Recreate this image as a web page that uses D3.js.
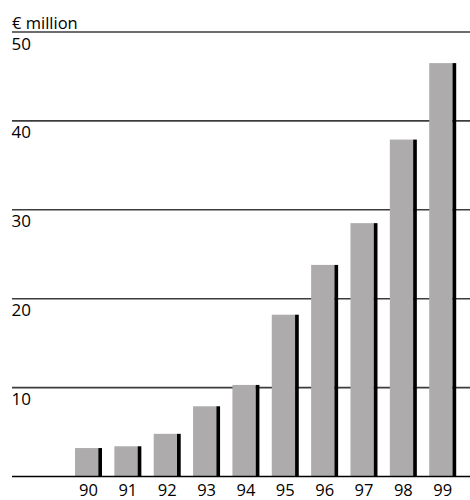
<!DOCTYPE html>
<html>
<head>
<meta charset="utf-8">
<script src="https://cdn.jsdelivr.net/npm/d3@7/dist/d3.min.js"></script>
<style>
  html, body { margin: 0; padding: 0; background: #fff; }
  svg { display: block; }
  text { font-family: "Open Sans", "Noto Sans", sans-serif; fill: #000; font-weight: 500; }
</style>
</head>
<body>
<svg id="chart" width="470" height="500"></svg>
<script>
// Annual values, € million
const years = ["90", "91", "92", "93", "94", "95", "96", "97", "98", "99"];
const values = [3.2, 3.4, 4.8, 7.9, 10.3, 18.2, 23.8, 28.5, 37.9, 46.5];
const yTicks = [10, 20, 30, 40, 50];
const unitLabel = "€ million";

const svg = d3.select("#chart");

const y = d3.scaleLinear().domain([0, 50]).range([476.5, 32]);
const x = d3.scaleBand()
  .domain(years)
  .range([75, 456.2])
  .paddingInner(0.314)
  .paddingOuter(0);

const lineLeft = 12, lineRight = 470;
const faceShare = 0.863; // grey face vs. dark side edge

// horizontal reference lines with their labels underneath
const grid = svg.append("g");
grid.selectAll("line")
  .data(yTicks)
  .join("line")
  .attr("x1", lineLeft).attr("x2", lineRight)
  .attr("y1", d => y(d)).attr("y2", d => y(d))
  .attr("stroke", "#3c3c3c")
  .attr("stroke-width", 1.6);

grid.selectAll("text")
  .data(yTicks)
  .join("text")
  .attr("x", lineLeft - 0.5)
  .attr("y", d => y(d) + 17.5)
  .attr("font-size", 17)
  .text(d => d);

// bars: grey face plus a black edge on the right
const bars = svg.append("g");
bars.selectAll("rect.face")
  .data(values)
  .join("rect")
  .attr("class", "face")
  .attr("x", (d, i) => x(years[i]))
  .attr("y", d => y(d))
  .attr("width", x.bandwidth() * faceShare)
  .attr("height", d => y(0) - y(d))
  .attr("fill", "#adabac");

bars.selectAll("rect.edge")
  .data(values)
  .join("rect")
  .attr("class", "edge")
  .attr("x", (d, i) => x(years[i]) + x.bandwidth() * faceShare)
  .attr("y", d => y(d))
  .attr("width", x.bandwidth() * (1 - faceShare))
  .attr("height", d => y(0) - y(d))
  .attr("fill", "#000");

// baseline
svg.append("line")
  .attr("x1", lineLeft).attr("x2", lineRight)
  .attr("y1", y(0)).attr("y2", y(0))
  .attr("stroke", "#000")
  .attr("stroke-width", 1.6);

// category labels
const xAxis = d3.axisBottom(x).tickSize(0).tickPadding(0);
const xg = svg.append("g")
  .attr("transform", `translate(0, ${y(0)})`)
  .call(xAxis);
xg.select(".domain").remove();
xg.selectAll("text")
  .attr("y", 19.5)
  .attr("dy", null)
  .attr("font-size", 16.5)
  .attr("font-family", "'Open Sans', 'Noto Sans', sans-serif")
  .attr("font-weight", 500)
  .attr("fill", "#000");

// unit label
svg.append("text")
  .attr("x", lineLeft)
  .attr("y", 28.5)
  .attr("font-size", 16.5)
  .text(unitLabel);
</script>
</body>
</html>
